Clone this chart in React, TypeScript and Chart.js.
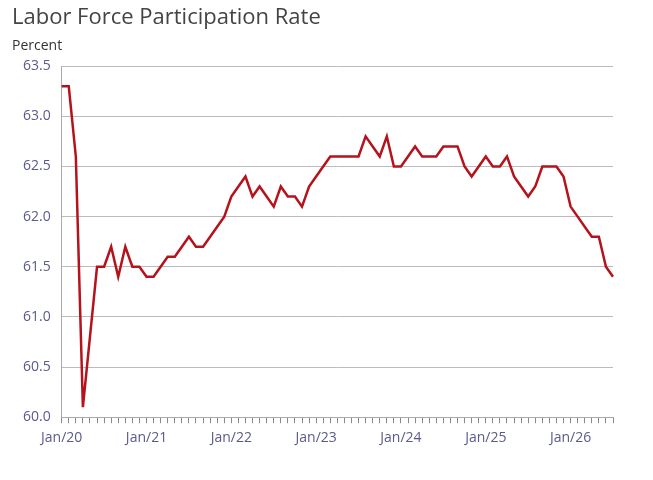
import React, { useEffect, useRef } from "react";
import { Chart, registerables } from "chart.js";
Chart.register(...registerables);

const MONTHS = ["Jan","Feb","Mar","Apr","May","Jun","Jul","Aug","Sep","Oct","Nov","Dec"];
const YEARS = ["20","21","22","23","24","25","26"];
const categories: string[] = [];
YEARS.forEach((y) => MONTHS.forEach((m) => categories.push(`${m}/${y}`)));
const values = [
  63.3, 63.3, 62.6, 60.1, 60.8, 61.5, 61.5, 61.7, 61.4, 61.7, 61.5, 61.5,
  61.4, 61.4, 61.5, 61.6, 61.6, 61.7, 61.8, 61.7, 61.7, 61.8, 61.9, 62.0,
  62.2, 62.3, 62.4, 62.2, 62.3, 62.2, 62.1, 62.3, 62.2, 62.2, 62.1, 62.3,
  62.4, 62.5, 62.6, 62.6, 62.6, 62.6, 62.6, 62.8, 62.7, 62.6, 62.8, 62.5,
  62.5, 62.6, 62.7, 62.6, 62.6, 62.6, 62.7, 62.7, 62.7, 62.5, 62.4, 62.5,
  62.6, 62.5, 62.5, 62.6, 62.4, 62.3, 62.2, 62.3, 62.5, 62.5, 62.5, 62.4,
  62.1, 62.0, 61.9, 61.8, 61.8, 61.5, 61.4,
];
const labels = categories.slice(0, values.length);
const TITLE = "Labor Force Participation Rate";
const UNIT = "Percent";

export default function App() {
  const ref = useRef<HTMLCanvasElement>(null);
  useEffect(() => {
    document.body.style.margin = "0";
    const font = "'Open Sans', 'Noto Sans', sans-serif";
    const chart = new Chart(ref.current!, {
      type: "line",
      data: {
        labels,
        datasets: [{
          data: values,
          borderColor: "#b5121b",
          borderWidth: 2.5,
          pointRadius: 0,
          tension: 0,
        }],
      },
      options: {
        animation: false,
        responsive: false,
        layout: { padding: { left: 12, right: 40, top: 5, bottom: 28 } },
        plugins: {
          legend: { display: false },
          tooltip: { enabled: false },
          title: {
            display: true, text: TITLE, align: "start", color: "#444",
            font: { family: font, size: 22, weight: "normal" }, padding: { top: 0, bottom: 6 },
          },
          subtitle: {
            display: true, text: UNIT, align: "start", color: "#333",
            font: { family: font, size: 14 }, padding: { top: 0, bottom: 12 },
          },
        },
        scales: {
          x: {
            type: "category",
            offset: false,
            grid: { display: true, drawOnChartArea: false, drawTicks: true, tickLength: 6, color: "#888" },
            border: { display: true, color: "#aaa" },
            ticks: {
              autoSkip: false, maxRotation: 0, minRotation: 0,
              color: "#5a5a8c", font: { family: font, size: 14 }, padding: 6,
              callback: (v: any, i: number) => (labels[i].startsWith("Jan") ? labels[i] : ""),
            },
          },
          y: {
            min: 60, max: 63.5,
            grid: { color: "#bbb", drawTicks: false },
            border: { display: true, color: "#aaa" },
            ticks: {
              stepSize: 0.5, color: "#5a5a8c", font: { family: font, size: 14 }, padding: 11,
              callback: (v: any) => Number(v).toFixed(1),
            },
          },
        },
      },
    });
    return () => chart.destroy();
  }, []);
  return <canvas ref={ref} width={653} height={480} style={{ display: "block" }} />;
}
